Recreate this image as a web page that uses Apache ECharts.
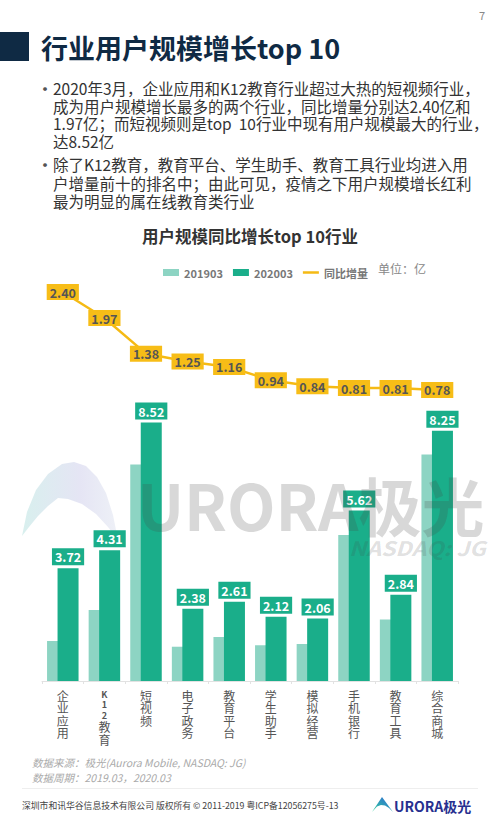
<!DOCTYPE html>
<html>
<head>
<meta charset="utf-8">
<script src="https://cdn.jsdelivr.net/npm/echarts@6/dist/echarts.min.js"></script>
<style>
html,body{margin:0;padding:0;background:#fff;}
#chart{width:500px;height:833px;}
</style>
</head>
<body>
<div id="chart"></div>
<script>
const categories = ['企业应用','K12教育','短视频','电子政务','教育平台','学生助手','模拟经营','手机银行','教育工具','综合商城'];
const users201903 = [1.32, 2.34, 7.14, 1.13, 1.45, 1.18, 1.22, 4.81, 2.03, 7.47];
const users202003 = [3.72, 4.31, 8.52, 2.38, 2.61, 2.12, 2.06, 5.62, 2.84, 8.25];
const yoyIncrease = [2.40, 1.97, 1.38, 1.25, 1.16, 0.94, 0.84, 0.81, 0.81, 0.78];
const seriesNames = ['201903', '202003', '同比增量'];

const pageTitle = '行业用户规模增长top 10';
const chartTitle = '用户规模同比增长top 10行业';
const unitText = '单位：亿';
const bulletLines = [
  ['2020年3月，企业应用和K12教育行业超过大热的短视频行业，',
   '成为用户规模增长最多的两个行业，同比增量分别达2.40亿和',
   '1.97亿；而短视频则是top  10行业中现有用户规模最大的行业，',
   '达8.52亿'],
  ['除了K12教育，教育平台、学生助手、教育工具行业均进入用',
   '户增量前十的排名中；由此可见，疫情之下用户规模增长红利',
   '最为明显的属在线教育类行业']
];
const sourceLines = ['数据来源：极光(Aurora Mobile, NASDAQ: JG)', '数据周期：2019.03，2020.03'];
const copyrightText = '深圳市和讯华谷信息技术有限公司 版权所有 © 2011-2019 粤ICP备12056275号-13';

const FONT = '"Noto Sans CJK SC", "Noto Sans", Roboto, sans-serif';
const chart = echarts.init(document.getElementById('chart'), null, {renderer: 'svg'});

function txt(text, x, y, o) {
  o = o || {};
  const st = {
    text: text, x: x, y: y,
    fontFamily: FONT, fontSize: o.fontSize || 12, fontWeight: o.fontWeight || 'normal',
    fontStyle: o.fontStyle || 'normal',
    fill: o.fill || '#333',
    align: o.align || 'left', verticalAlign: 'middle',
    textAlign: o.align || 'left', textVerticalAlign: 'middle'
  };
  if (o.lineHeight) st.lineHeight = o.lineHeight;
  const el = {type: 'text', z: o.z || 50, silent: true, style: st};
  if (o.scaleX) { el.scaleX = o.scaleX; el.originX = x; el.originY = y; }
  return el;
}

const graphics = [];
// header
graphics.push({type: 'rect', shape: {x: 0, y: 32, width: 29, height: 29}, style: {fill: '#0F2A44'}, silent: true});
graphics.push(txt(pageTitle, 41, 47, {fontSize: 27, fontWeight: 'bold', fill: '#0F2A44'}));
graphics.push(txt('7', 482, 15, {fontSize: 11, fill: '#888', align: 'center'}));
// bullets
const bulletY = [[88, 105.5, 123, 141], [164, 182.5, 201]];
bulletLines.forEach(function (lines, bi) {
  graphics.push(txt('•', 45, bulletY[bi][0], {fontSize: 18, fill: '#555', align: 'center', lineHeight: 16}));
  lines.forEach(function (l, li) {
    graphics.push(txt(l, 53, bulletY[bi][li], {fontSize: 15.5, fill: '#333', lineHeight: 16}));
  });
});
// chart title + unit
graphics.push(txt(chartTitle, 250, 236, {fontSize: 16.5, fontWeight: 'bold', fill: '#333', align: 'center'}));
graphics.push(txt(unitText, 378, 268, {fontSize: 12, fill: '#888'}));
// watermark swoosh (decoration)
graphics.push({
  type: 'polygon', z: 1, silent: true,
  shape: {points: [[22,536],[27,512],[36,490],[48,474],[62,464],[74,462],[86,466],[97,477],[106,493],[113,515],[118,540],
                   [108,527],[96,514],[82,504],[68,499],[58,498],[48,506],[38,516],[29,527]]},
  style: {
    fill: new echarts.graphic.LinearGradient(0, 0, 1, 0, [
      {offset: 0, color: '#d4eeec'}, {offset: 0.6, color: '#e2e2f3'}, {offset: 1, color: '#eceff6'}
    ]),
    opacity: 0.9
  }
});
// watermark text
graphics.push(txt('URORA极光', 137, 503, {fontSize: 63, fontWeight: 'bold', fill: 'rgba(70,70,70,0.21)', z: 100, lineHeight: 44}));
graphics.push(txt('NASDAQ: JG', 349, 547, {fontSize: 20, fontWeight: 'bold', fontStyle: 'italic', fill: 'rgba(70,70,70,0.18)', z: 100, scaleX: 1.15, lineHeight: 16}));
// footer
graphics.push(txt(sourceLines[0], 32, 762, {fontSize: 10.5, fontStyle: 'italic', fill: '#aaa'}));
graphics.push(txt(sourceLines[1], 32, 777, {fontSize: 10.5, fontStyle: 'italic', fill: '#aaa'}));
graphics.push({type: 'line', shape: {x1: 22, y1: 788.5, x2: 478, y2: 788.5}, style: {stroke: '#eeeeee', lineWidth: 1}, silent: true});
graphics.push(txt(copyrightText, 22, 805, {fontSize: 8.8, fill: '#444'}));
graphics.push({
  type: 'polygon', silent: true,
  shape: {points: [[372,812],[382,797],[393,812],[389,808],[385,805.5],[381,805],[377,806.5]]},
  style: {fill: new echarts.graphic.LinearGradient(1, 0, 0, 1, [
    {offset: 0, color: '#2f62d8'}, {offset: 1, color: '#2ed39a'}
  ])}
});
graphics.push(txt('URORA极光', 394, 806, {fontSize: 14, fontWeight: 'bold', fill: '#27308f'}));

const latinRe = /[A-Za-z0-9]/;
function vertLabel(v) {
  return v.split('').map(function (c) {
    return latinRe.test(c) ? '{n|' + c + '}' : '{c|' + c + '}';
  }).join('\n');
}

const option = {
  backgroundColor: '#ffffff',
  animation: false,
  textStyle: {fontFamily: FONT},
  graphic: graphics,
  legend: {
    left: 158, top: 262,
    itemWidth: 16, itemHeight: 7, itemGap: 10,
    symbolKeepAspect: true,
    textStyle: {fontSize: 11, fontWeight: 'bold', color: '#777', fontFamily: FONT},
    data: [
      {name: seriesNames[0], icon: 'rect'},
      {name: seriesNames[1], icon: 'rect'},
      {name: seriesNames[2], icon: 'path://M0,0L16,0L16,2.5L0,2.5Z'}
    ]
  },
  grid: [
    {left: 42, right: 42, top: 286, bottom: 396},
    {left: 42, right: 42, top: 408, bottom: 152}
  ],
  xAxis: [
    {gridIndex: 0, type: 'category', data: categories, show: false},
    {gridIndex: 1, type: 'category', data: categories,
     axisLine: {lineStyle: {color: '#e2e2e2'}},
     axisTick: {show: true, length: 3, lineStyle: {color: '#e2e2e2'}},
     axisLabel: {
       interval: 0, margin: 8, fontSize: 12, color: '#555', lineHeight: 12.4,
       fontFamily: FONT, formatter: vertLabel,
       rich: {
         c: {fontSize: 12, lineHeight: 12.4, color: '#555', fontFamily: FONT},
         n: {fontSize: 9, lineHeight: 10.5, color: '#555', fontWeight: 'bold', fontFamily: FONT}
       }
     }}
  ],
  yAxis: [
    {gridIndex: 0, type: 'value', min: 0, max: 2.5, show: false},
    {gridIndex: 1, type: 'value', min: 0, max: 9, show: false}
  ],
  series: [
    {
      name: seriesNames[0], type: 'bar', xAxisIndex: 1, yAxisIndex: 1,
      data: users201903, barWidth: 21, barGap: '-50%',
      itemStyle: {color: '#8DD4C3'}
    },
    {
      name: seriesNames[1], type: 'bar', xAxisIndex: 1, yAxisIndex: 1,
      data: users202003, barWidth: 21, barGap: '-50%',
      itemStyle: {color: '#1AAE8A'},
      label: {
        show: true, position: 'top', distance: 3,
        formatter: function (p) { return p.value.toFixed(2); },
        backgroundColor: '#1AAE8A', color: '#fff', fontWeight: 'bold', fontSize: 12.5,
        lineHeight: 13, padding: [2, 3, 2, 3], fontFamily: FONT
      }
    },
    {
      name: seriesNames[2], type: 'line', xAxisIndex: 0, yAxisIndex: 0,
      data: yoyIncrease, symbol: 'circle', symbolSize: 2, showSymbol: true,
      lineStyle: {color: '#F5BA14', width: 2.5},
      itemStyle: {color: '#F5BA14'},
      z: 5,
      label: {
        show: true, position: 'inside',
        formatter: function (p) { return p.value.toFixed(2); },
        backgroundColor: '#F7BD17', color: '#555', fontWeight: 'bold', fontSize: 12.5,
        lineHeight: 12, padding: [2, 3, 2, 3], fontFamily: FONT
      }
    }
  ]
};
chart.setOption(option);
</script>
</body>
</html>
